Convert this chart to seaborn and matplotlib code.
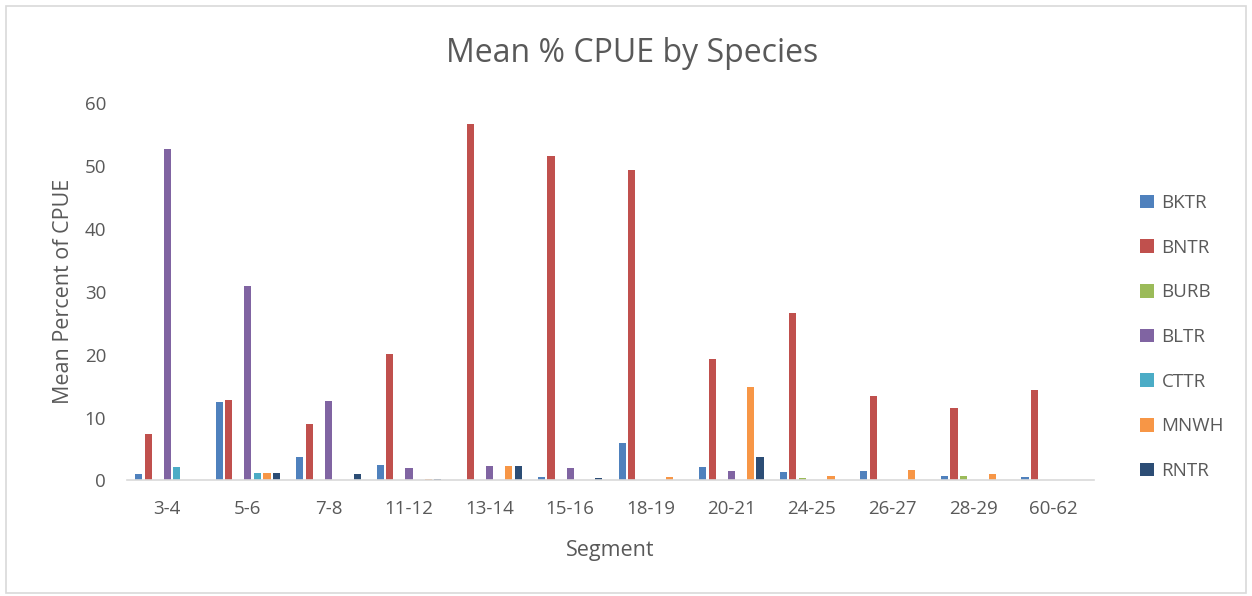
import matplotlib
matplotlib.use("Agg")
import matplotlib.pyplot as plt
import seaborn as sns
import pandas as pd
from matplotlib.patches import Rectangle

segments = ["3-4", "5-6", "7-8", "11-12", "13-14", "15-16", "18-19",
            "20-21", "24-25", "26-27", "28-29", "60-62"]
species = ["BKTR", "BNTR", "BURB", "BLTR", "CTTR", "MNWH", "RNTR"]

bktr = [1.0, 12.4, 3.7, 2.5, 0.0, 0.55, 6.0, 2.15, 1.4, 1.5, 0.7, 0.6]
bntr = [7.4, 12.8, 8.9, 20.1, 56.6, 51.6, 49.3, 19.3, 26.6, 13.5, 11.6, 14.4]
burb = [0.0, 0.0, 0.0, 0.0, 0.0, 0.0, 0.0, 0.0, 0.35, 0.0, 0.7, 0.0]
bltr = [52.7, 30.9, 12.7, 2.0, 2.3, 2.0, 0.0, 1.45, 0.0, 0.0, 0.0, 0.0]
cttr = [2.1, 1.2, 0.0, 0.0, 0.0, 0.0, 0.0, 0.0, 0.0, 0.0, 0.0, 0.0]
mnwh = [0.0, 1.2, 0.0, 0.25, 2.3, 0.0, 0.6, 14.8, 0.7, 1.7, 1.0, 0.0]
rntr = [0.0, 1.2, 1.0, 0.25, 2.3, 0.4, 0.0, 3.7, 0.0, 0.0, 0.0, 0.0]

colors = ["#4F81BD", "#C0504D", "#9BBB59", "#8064A2", "#4BACC6", "#F79646", "#2C4D75"]

series = [bktr, bntr, burb, bltr, cttr, mnwh, rntr]
rows = []
for sp, vals in zip(species, series):
    for seg, v in zip(segments, vals):
        rows.append({"Segment": seg, "Species": sp, "Value": v})
df = pd.DataFrame(rows)

sns.set_theme(style="white")
plt.rcParams["font.family"] = ["Open Sans", "DejaVu Sans"]
text_col = "#595959"

fig = plt.figure(figsize=(12.52, 5.96), dpi=100)
ax = fig.add_axes([0.1014, 0.1938, 0.7724, 0.6334])

sns.barplot(data=df, x="Segment", y="Value", hue="Species",
            order=segments, hue_order=species, palette=colors,
            saturation=1, width=0.83, gap=0.25, ax=ax, legend=True,
            errorbar=None, linewidth=0)

ax.set_ylim(0, 60)
ax.set_xlim(-0.5, len(segments) - 0.5)
ax.set_yticks(range(0, 61, 10))
ax.tick_params(axis="both", colors=text_col, labelsize=13.5, length=0)
ax.tick_params(axis="x", pad=14)
ax.tick_params(axis="y", pad=15)
for s in ["top", "right", "left"]:
    ax.spines[s].set_visible(False)
ax.spines["bottom"].set_color("#D9D9D9")
ax.spines["bottom"].set_linewidth(1.2)

ax.set_xlabel("Segment", fontsize=15.5, color=text_col, labelpad=16)
ax.set_ylabel("Mean Percent of CPUE", fontsize=15.5, color=text_col, labelpad=8)
fig.text(0.505, 0.91, "Mean % CPUE by Species", ha="center", va="center",
         fontsize=23, color=text_col)

handles, labels = ax.get_legend_handles_labels()
ax.legend(handles, labels, loc="center left", bbox_to_anchor=(1.03, 0.38),
          frameon=False, fontsize=13.5, labelcolor=text_col,
          handlelength=0.75, handleheight=0.75, handletextpad=0.4,
          labelspacing=1.42)

fig.patches.append(Rectangle((0.005, 0.005), 0.99, 0.985, transform=fig.transFigure,
                             fill=False, edgecolor="#D9D9D9", linewidth=1.2))

fig.savefig("out.png", dpi=100)
